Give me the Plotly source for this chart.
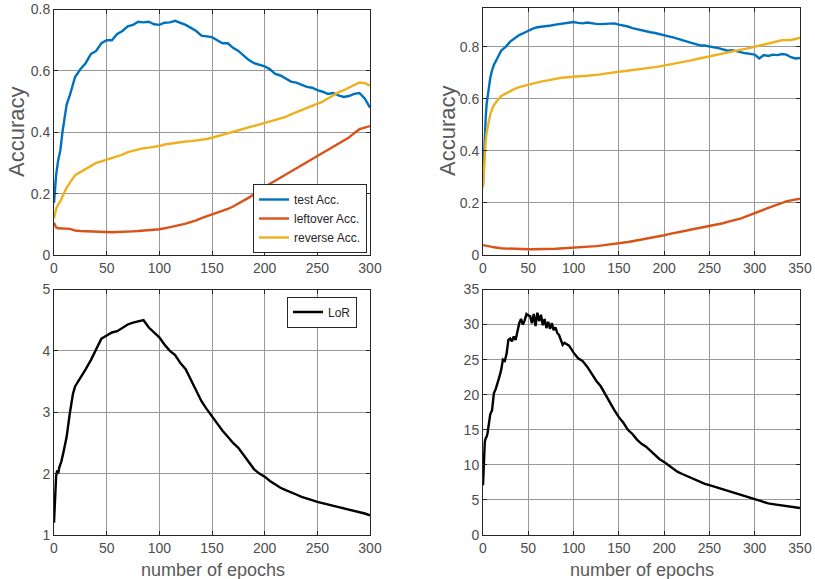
import plotly.graph_objects as go

# ---------------- data ----------------
EP_TL = [0, 2, 4, 6, 8, 10, 12, 15, 18, 20] + list(range(25, 301, 5))
TEST_TL = [0.17, 0.26, 0.31, 0.34, 0.40, 0.45, 0.49, 0.52, 0.56, 0.58,
           0.605, 0.625, 0.655, 0.665, 0.69, 0.70, 0.70, 0.72, 0.73, 0.745,
           0.75, 0.76, 0.758, 0.76, 0.752, 0.75, 0.757, 0.758, 0.763, 0.757,
           0.75, 0.74, 0.73, 0.715, 0.712, 0.71, 0.70, 0.69, 0.69, 0.675,
           0.665, 0.65, 0.635, 0.625, 0.62, 0.615, 0.605, 0.59, 0.585, 0.575,
           0.565, 0.562, 0.555, 0.548, 0.545, 0.537, 0.532, 0.525, 0.528, 0.52,
           0.515, 0.518, 0.525, 0.528, 0.51, 0.48]
LEFT_TL = [0.105, 0.09, 0.087, 0.087, 0.087, 0.087, 0.086, 0.085, 0.082, 0.08,
           0.078, 0.077, 0.076, 0.075, 0.074, 0.074, 0.074, 0.075, 0.075, 0.076,
           0.077, 0.078, 0.079, 0.081, 0.082, 0.084, 0.087, 0.09, 0.094, 0.098,
           0.102, 0.107, 0.113, 0.12, 0.126, 0.132, 0.137, 0.143, 0.15, 0.158,
           0.167, 0.177, 0.187, 0.198, 0.21, 0.222, 0.232, 0.242, 0.252, 0.262,
           0.272, 0.282, 0.292, 0.302, 0.312, 0.322, 0.332, 0.342, 0.352, 0.362,
           0.372, 0.383, 0.397, 0.41, 0.415, 0.42]
REV_TL = [0.12, 0.15, 0.165, 0.175, 0.19, 0.205, 0.22, 0.235, 0.25, 0.26,
          0.27, 0.28, 0.29, 0.30, 0.305, 0.31, 0.315, 0.32, 0.327, 0.335,
          0.34, 0.345, 0.348, 0.35, 0.352, 0.355, 0.36, 0.363, 0.366, 0.368,
          0.37, 0.371, 0.373, 0.375, 0.378, 0.382, 0.387, 0.392, 0.397, 0.40,
          0.405, 0.41, 0.415, 0.42, 0.425, 0.43, 0.435, 0.44, 0.445, 0.45,
          0.458, 0.465, 0.472, 0.48, 0.487, 0.493, 0.50, 0.51, 0.52, 0.53,
          0.537, 0.545, 0.555, 0.562, 0.56, 0.552]

EP_TR = [0, 1, 2, 3, 4, 6, 8, 10, 12, 15, 18, 20] + list(range(25, 351, 5))
TEST_TR = [0.27, 0.38, 0.46, 0.53, 0.58, 0.64, 0.68, 0.71, 0.73, 0.75, 0.77, 0.785,
           0.80, 0.82, 0.833, 0.845, 0.853, 0.863, 0.87, 0.875, 0.877, 0.878,
           0.882, 0.885, 0.888, 0.89, 0.893, 0.895, 0.892, 0.89, 0.893, 0.89,
           0.888, 0.887, 0.888, 0.887, 0.89, 0.885, 0.882, 0.878, 0.872, 0.868,
           0.862, 0.858, 0.856, 0.853, 0.848, 0.845, 0.84, 0.836, 0.83, 0.826,
           0.82, 0.815, 0.81, 0.805, 0.805, 0.80, 0.798, 0.795, 0.79, 0.785,
           0.787, 0.782, 0.778, 0.775, 0.773, 0.77, 0.755, 0.768, 0.765, 0.77,
           0.768, 0.772, 0.77, 0.76, 0.755, 0.757]
LEFT_TR = [0.038, 0.037, 0.036, 0.035, 0.034, 0.033, 0.032, 0.031, 0.03, 0.028, 0.027, 0.026,
           0.025, 0.024, 0.023, 0.023, 0.022, 0.022, 0.022, 0.022, 0.023, 0.023,
           0.024, 0.024, 0.025, 0.026, 0.026, 0.027, 0.028, 0.029, 0.031, 0.032,
           0.034, 0.036, 0.038, 0.04, 0.042, 0.044, 0.047, 0.05, 0.053, 0.056,
           0.059, 0.062, 0.065, 0.069, 0.072, 0.076, 0.08, 0.083, 0.087, 0.09,
           0.094, 0.098, 0.101, 0.104, 0.107, 0.11, 0.114, 0.118, 0.122, 0.127,
           0.131, 0.136, 0.141, 0.147, 0.153, 0.16, 0.167, 0.174, 0.181, 0.188,
           0.195, 0.2, 0.206, 0.21, 0.212, 0.216]
REV_TR = [0.26, 0.33, 0.39, 0.44, 0.47, 0.51, 0.54, 0.56, 0.575, 0.59, 0.60, 0.61,
          0.62, 0.63, 0.638, 0.645, 0.65, 0.655, 0.66, 0.664, 0.667, 0.67,
          0.674, 0.677, 0.68, 0.682, 0.684, 0.686, 0.687, 0.688, 0.689, 0.69,
          0.692, 0.694, 0.697, 0.70, 0.702, 0.704, 0.706, 0.708, 0.71, 0.712,
          0.714, 0.716, 0.719, 0.722, 0.725, 0.728, 0.731, 0.734, 0.737, 0.74,
          0.744, 0.748, 0.752, 0.756, 0.76, 0.764, 0.767, 0.77, 0.774, 0.777,
          0.781, 0.785, 0.789, 0.792, 0.796, 0.80, 0.803, 0.807, 0.811, 0.815,
          0.82, 0.825, 0.826, 0.826, 0.83, 0.835]

EP_BL = [0, 1, 2, 3, 4, 5, 7, 9, 10, 12, 15, 18, 20] + list(range(25, 301, 5))
LOR_BL = [1.2, 1.75, 1.95, 2.05, 2.0, 2.1, 2.2, 2.35, 2.42, 2.6, 2.98, 3.3, 3.42,
          3.55, 3.7, 3.85, 4.02, 4.2, 4.25, 4.3, 4.32, 4.38, 4.43, 4.46, 4.48,
          4.5, 4.38, 4.3, 4.22, 4.1, 4.0, 3.93, 3.8, 3.7, 3.52, 3.36, 3.18,
          3.05, 2.93, 2.82, 2.7, 2.6, 2.5, 2.42, 2.3, 2.18, 2.07, 2.0, 1.95,
          1.88, 1.82, 1.77, 1.73, 1.7, 1.66, 1.62, 1.6, 1.57, 1.54, 1.52, 1.49,
          1.47, 1.45, 1.44, 1.41, 1.39, 1.37, 1.35, 1.32]

EP_BR = [0, 1, 2, 3, 4, 5, 6] + list(range(8, 91, 2)) + list(range(95, 351, 5))
LOR_BR = [7.1, 10.0, 13.3, 13.8, 14.0, 14.5, 15.3,
          17.2, 17.8, 20.2, 20.8, 21.5, 22.5, 23.5, 25.0, 24.8, 25.8, 27.8, 28.0,
          27.6, 28.3, 27.8, 29.3, 30.2, 30.8, 30.0, 30.6, 31.5, 31.3, 31.2, 30.2,
          31.5, 29.8, 31.7, 30.5, 31.4, 29.9, 30.8, 29.5, 30.4, 29.4, 30.2, 29.2,
          29.6, 28.8, 28.5, 27.8, 27.1, 27.4,
          27.0, 26.0, 25.2, 24.8, 24.0, 23.0, 22.0, 21.2, 20.0, 19.0, 17.8, 16.8,
          16.0, 15.0, 14.4, 13.6, 13.0, 12.6, 12.0, 11.3, 10.8, 10.4, 9.9, 9.5,
          9.0, 8.7, 8.4, 8.1, 7.8, 7.5, 7.3, 7.1, 6.9, 6.6, 6.4, 6.2, 6.0, 5.8,
          5.6, 5.4, 5.2, 5.0, 4.8, 4.7, 4.5, 4.4, 4.3, 4.2, 4.1, 4.0, 3.95, 3.85]

TICKS_X_L = [0, 50, 100, 150, 200, 250, 300]
TICKS_X_R = [0, 50, 100, 150, 200, 250, 300, 350]
TICKS_Y_ACC = [0, 0.2, 0.4, 0.6, 0.8]
TICKS_Y_BL = [1, 2, 3, 4, 5]
TICKS_Y_BR = [0, 5, 10, 15, 20, 25, 30, 35]

# ---------------- style ----------------
BLUE, ORANGE, YELLOW = "#0072BD", "#D95319", "#EDB120"
FONT = "Liberation Sans, Arial, sans-serif"
LW = 2.4

fig = go.Figure()
fig.add_trace(go.Scatter(x=EP_TL, y=TEST_TL, mode="lines", line=dict(color=BLUE, width=LW),
                         name="test Acc.", xaxis="x", yaxis="y", legend="legend"))
fig.add_trace(go.Scatter(x=EP_TL, y=LEFT_TL, mode="lines", line=dict(color=ORANGE, width=LW),
                         name="leftover Acc.", xaxis="x", yaxis="y", legend="legend"))
fig.add_trace(go.Scatter(x=EP_TL, y=REV_TL, mode="lines", line=dict(color=YELLOW, width=LW),
                         name="reverse Acc.", xaxis="x", yaxis="y", legend="legend"))
fig.add_trace(go.Scatter(x=EP_TR, y=TEST_TR, mode="lines", line=dict(color=BLUE, width=LW),
                         showlegend=False, xaxis="x2", yaxis="y2"))
fig.add_trace(go.Scatter(x=EP_TR, y=LEFT_TR, mode="lines", line=dict(color=ORANGE, width=LW),
                         showlegend=False, xaxis="x2", yaxis="y2"))
fig.add_trace(go.Scatter(x=EP_TR, y=REV_TR, mode="lines", line=dict(color=YELLOW, width=LW),
                         showlegend=False, xaxis="x2", yaxis="y2"))
fig.add_trace(go.Scatter(x=EP_BL, y=LOR_BL, mode="lines", line=dict(color="black", width=LW),
                         name="LoR", xaxis="x3", yaxis="y3", legend="legend2"))
fig.add_trace(go.Scatter(x=EP_BR, y=LOR_BR, mode="lines", line=dict(color="black", width=LW),
                         showlegend=False, xaxis="x4", yaxis="y4"))

def ax(domain, rng, tickvals, anchor):
    return dict(domain=domain, range=rng, tickvals=tickvals, anchor=anchor,
                automargin=False,
                showline=True, mirror="ticks", linecolor="#262626", linewidth=1,
                ticks="inside", ticklen=4, tickcolor="#262626",
                showgrid=True, gridcolor="#999999", gridwidth=1, zeroline=False,
                tickfont=dict(family=FONT, size=14, color="#4d4d4d"))

XL = [54 / 815, 370 / 815]
XR = [483 / 815, 800 / 815]
YT = [1 - 255 / 579, 1 - 9.5 / 579]
YT2 = [1 - 255 / 579, 1 - 7.5 / 579]
YB = [1 - 535 / 579, 1 - 289.5 / 579]

fig.update_layout(
    width=815, height=579, margin=dict(l=0, r=0, t=0, b=0, pad=0, autoexpand=False),
    paper_bgcolor="white", plot_bgcolor="white",
    xaxis=ax(XL, [0, 300], TICKS_X_L, "y"),
    yaxis=ax(YT, [0, 0.8], TICKS_Y_ACC, "x"),
    xaxis2=ax(XR, [0, 350], TICKS_X_R, "y2"),
    yaxis2=ax(YT2, [0, 0.951], TICKS_Y_ACC, "x2"),
    xaxis3=ax(XL, [0, 300], TICKS_X_L, "y3"),
    yaxis3=ax(YB, [1, 5], TICKS_Y_BL, "x3"),
    xaxis4=ax(XR, [0, 350], TICKS_X_R, "y4"),
    yaxis4=ax(YB, [0, 35], TICKS_Y_BR, "x4"),
    legend=dict(x=367 / 815, y=1 - 253 / 579, xanchor="right", yanchor="bottom",
                bgcolor="white", bordercolor="#262626", borderwidth=1,
                font=dict(family=FONT, size=12, color="#262626"),
                tracegroupgap=0),
    legend2=dict(x=357 / 815, y=1 - 312 / 579, xanchor="right", yanchor="middle",
                 bgcolor="white", bordercolor="#262626", borderwidth=1,
                 font=dict(family=FONT, size=12, color="#262626")),
    annotations=[
        dict(text="Accuracy", x=16 / 815, y=1 - 132 / 579, xref="paper", yref="paper",
             textangle=-90, showarrow=False, xanchor="center", yanchor="middle",
             font=dict(family=FONT, size=22, color="#595959")),
        dict(text="Accuracy", x=447 / 815, y=1 - 131 / 579, xref="paper", yref="paper",
             textangle=-90, showarrow=False, xanchor="center", yanchor="middle",
             font=dict(family=FONT, size=22, color="#595959")),
        dict(text="number of epochs", x=213 / 815, y=1 - 570 / 579, xref="paper", yref="paper",
             showarrow=False, xanchor="center", yanchor="middle",
             font=dict(family=FONT, size=18, color="#595959")),
        dict(text="number of epochs", x=642 / 815, y=1 - 570 / 579, xref="paper", yref="paper",
             showarrow=False, xanchor="center", yanchor="middle",
             font=dict(family=FONT, size=18, color="#595959")),
    ],
)

fig.write_html("out.html", config={"displayModeBar": False},
               post_script="document.body.style.margin='0';document.body.style.overflow='hidden';")
